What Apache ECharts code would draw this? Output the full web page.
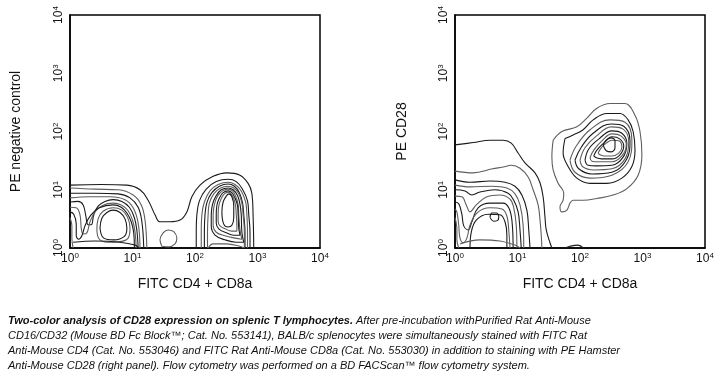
<!DOCTYPE html>
<html><head><meta charset="utf-8">
<script src="https://cdn.jsdelivr.net/npm/echarts@6/dist/echarts.min.js"></script>
<style>html,body{margin:0;padding:0;background:#fff}#c{width:720px;height:375px}</style>
</head><body><div id="c"></div>
<script>
// Axis: decades of fluorescence (10^0 .. 10^4)
const tickExponents = ['0','1','2','3','4'];
const xTitle = 'FITC CD4 + CD8a';
const yTitleLeft = 'PE negative control';
const yTitleRight = 'PE CD28';

// ---- Left panel contours (x, y in log10 decades) ----
const L1 = [[0,1.08],[0.5,1.09],[0.91,1.08],[1.12,1.00],[1.25,0.82],[1.36,0.57],[1.44,0.45],[1.60,0.45],[1.76,0.48],[1.87,0.62],[1.95,0.88],[2.08,1.08],[2.29,1.23],[2.51,1.29],[2.72,1.25],[2.85,1.11],[2.91,0.94],[2.93,0.54],[2.94,0]];
const A2 = [[0,1.03],[0.40,1.01],[0.77,1.00],[1.01,0.91],[1.14,0.74],[1.20,0.48],[1.23,0]];
const A3 = [[0,0.94],[0.40,0.94],[0.77,0.93],[0.96,0.86],[1.09,0.70],[1.15,0.45],[1.18,0]];
const A4 = [[0,0.86],[0.32,0.88],[0.64,0.88],[0.88,0.83],[1.01,0.69],[1.09,0.43],[1.12,0]];
const A5 = [[0,0.79],[0.13,0.80],[0.21,0.74],[0.25,0.57],[0.29,0.40],[0.34,0.40],[0.38,0.57],[0.45,0.72],[0.56,0.80],[0.69,0.83],[0.83,0.80],[0.95,0.70],[1.03,0.52],[1.07,0.30],[1.09,0]];
const A6 = [[0,0.70],[0.10,0.69],[0.16,0.57],[0.18,0.34],[0.21,0.24],[0.27,0.26],[0.32,0.45],[0.40,0.62],[0.52,0.73],[0.69,0.77],[0.82,0.74],[0.93,0.64],[1.00,0.48],[1.04,0.28],[1.06,0]];
const A7 = [[0,0.62],[0.06,0.58],[0.10,0.41],[0.10,0.21],[0.14,0.15],[0.19,0.21],[0.24,0.38],[0.33,0.56],[0.47,0.69],[0.69,0.74],[0.82,0.70],[0.91,0.60],[0.98,0.45],[1.02,0.26],[1.03,0]];
const A8 = [[0.43,0.31],[0.45,0.50],[0.53,0.63],[0.69,0.69],[0.83,0.65],[0.92,0.53],[0.96,0.34],[0.93,0.17],[0.80,0.11],[0.60,0.10],[0.47,0.15],[0.43,0.31]];
const A9 = [[0.48,0.34],[0.51,0.51],[0.59,0.61],[0.69,0.65],[0.80,0.61],[0.88,0.50],[0.91,0.34],[0.87,0.20],[0.70,0.14],[0.54,0.17],[0.48,0.34]];
const A8edge = [[0,0.52],[0.03,0.38],[0.03,0.17],[0.05,0]];
const Abottom = [[0.05,0.10],[0.40,0.12],[0.80,0.10],[1.04,0.05],[1.10,0]];
const island = [[1.47,0.03],[1.44,0.14],[1.49,0.26],[1.57,0.31],[1.66,0.28],[1.71,0.17],[1.68,0.07],[1.58,0.02],[1.47,0.03]];
const B2 = [[2.02,0],[2.02,0.27],[2.03,0.57],[2.07,0.81],[2.18,1.01],[2.34,1.14],[2.53,1.18],[2.66,1.14],[2.76,1.01],[2.84,0.81],[2.86,0.57],[2.88,0.27],[2.88,0]];
const B3 = [[2.10,0],[2.10,0.27],[2.11,0.57],[2.15,0.79],[2.24,0.98],[2.37,1.09],[2.53,1.13],[2.64,1.09],[2.74,0.98],[2.81,0.79],[2.83,0.57],[2.84,0.27],[2.84,0]];
const B4 = [[2.15,0],[2.15,0.27],[2.16,0.57],[2.19,0.78],[2.27,0.95],[2.39,1.06],[2.53,1.10],[2.63,1.06],[2.71,0.95],[2.76,0.78],[2.78,0.57],[2.80,0.27],[2.80,0]];
const B5 = [[2.20,0],[2.20,0.27],[2.21,0.57],[2.23,0.77],[2.30,0.93],[2.41,1.03],[2.53,1.06],[2.62,1.03],[2.70,0.93],[2.75,0.77],[2.77,0.57],[2.79,0.27],[2.79,0]];
const B6 = [[2.26,0.57],[2.28,0.75],[2.34,0.90],[2.42,1.00],[2.53,1.03],[2.61,1.00],[2.68,0.90],[2.72,0.75],[2.74,0.57],[2.75,0.27],[2.78,0.10],[2.66,0.10],[2.48,0.14],[2.32,0.22],[2.26,0.38],[2.26,0.57]];
const B7 = [[2.29,0.57],[2.31,0.75],[2.36,0.89],[2.44,0.98],[2.53,1.01],[2.60,0.98],[2.65,0.89],[2.69,0.75],[2.70,0.57],[2.72,0.31],[2.75,0.15],[2.64,0.17],[2.48,0.21],[2.34,0.27],[2.29,0.39],[2.29,0.57]];
const B8 = [[2.34,0.57],[2.35,0.73],[2.39,0.86],[2.45,0.95],[2.53,0.98],[2.59,0.95],[2.64,0.86],[2.68,0.73],[2.69,0.57],[2.70,0.34],[2.72,0.22],[2.62,0.22],[2.50,0.26],[2.38,0.33],[2.34,0.43],[2.34,0.57]];
const B9 = [[2.37,0.57],[2.38,0.72],[2.42,0.85],[2.47,0.93],[2.53,0.96],[2.58,0.93],[2.62,0.85],[2.65,0.72],[2.66,0.57],[2.67,0.38],[2.67,0.29],[2.59,0.29],[2.48,0.33],[2.40,0.38],[2.37,0.46],[2.37,0.57]];
const B10 = [[2.43,0.62],[2.45,0.79],[2.50,0.89],[2.54,0.93],[2.59,0.88],[2.62,0.72],[2.62,0.53],[2.59,0.39],[2.53,0.36],[2.46,0.41],[2.43,0.62]];
const Bbottom = [[2.21,0],[2.29,0.07],[2.50,0.07],[2.72,0.03],[2.78,0]];

// ---- Right panel contours ----
const C1 = [[0,1.77],[0.29,1.81],[0.56,1.85],[0.77,1.85],[0.90,1.80],[1.01,1.63],[1.12,1.46],[1.28,1.29],[1.36,1.12],[1.41,0.88],[1.44,0.53],[1.46,0.31],[1.52,0.09],[1.55,0]];
const C2 = [[0,1.32],[0.29,1.29],[0.60,1.36],[0.77,1.39],[0.90,1.42],[1.04,1.37],[1.17,1.22],[1.25,1.00],[1.33,0.74],[1.36,0.48],[1.38,0.22],[1.39,0]];
const C3 = [[0,1.17],[0.24,1.13],[0.56,1.15],[0.80,1.13],[0.96,1.06],[1.07,0.91],[1.15,0.65],[1.18,0.31],[1.20,0]];
const C4 = [[0,1.08],[0.24,1.05],[0.59,1.06],[0.83,1.03],[0.96,0.93],[1.04,0.74],[1.09,0.39],[1.10,0]];
const C5 = [[0,1.00],[0.16,0.98],[0.27,0.91],[0.40,0.96],[0.64,1.00],[0.85,0.94],[0.94,0.82],[1.01,0.62],[1.04,0.31],[1.06,0]];
const C6 = [[0,0.89],[0.11,0.88],[0.18,0.74],[0.24,0.62],[0.34,0.74],[0.51,0.88],[0.72,0.91],[0.88,0.84],[0.94,0.69],[0.98,0.39],[0.99,0]];
const C7 = [[0,0.79],[0.06,0.76],[0.11,0.58],[0.14,0.38],[0.21,0.31],[0.27,0.45],[0.37,0.69],[0.56,0.77],[0.77,0.77],[0.86,0.69],[0.91,0.48],[0.93,0]];
const C8 = [[0,0.67],[0.03,0.62],[0.06,0.39],[0.08,0.17],[0.13,0.09],[0.19,0.17],[0.24,0.39],[0.35,0.60],[0.56,0.69],[0.75,0.67],[0.83,0.55],[0.86,0.31],[0.88,0]];
const C9 = [[0.24,0],[0.26,0.27],[0.34,0.48],[0.53,0.58],[0.72,0.57],[0.80,0.45],[0.83,0.22],[0.83,0]];
const Cedge = [[0,0.52],[0.03,0.34],[0.03,0.14],[0.06,0]];
const Cpeak = [[0.56,0.53],[0.59,0.60],[0.66,0.60],[0.70,0.55],[0.69,0.48],[0.62,0.46],[0.56,0.53]];
const Cbottom = [[0.08,0.07],[0.40,0.14],[0.72,0.12],[0.96,0.05],[1.04,0]];
const Cbump = [[1.76,0],[1.84,0.03],[1.97,0.05],[2.05,0]];
const D1 = [[1.57,1.85],[1.71,2.00],[1.95,2.08],[2.11,2.23],[2.27,2.40],[2.48,2.48],[2.72,2.48],[2.88,2.28],[2.96,2.00],[2.99,1.60],[2.93,1.25],[2.75,1.02],[2.53,0.91],[2.27,0.85],[2.05,0.82],[1.89,0.82],[1.84,0.77],[1.79,0.65],[1.71,0.62],[1.68,0.71],[1.73,0.82],[1.74,0.94],[1.65,1.11],[1.57,1.34],[1.55,1.57],[1.57,1.85]];
const D2 = [[1.76,1.88],[1.89,1.94],[2.05,2.03],[2.21,2.20],[2.43,2.31],[2.64,2.31],[2.77,2.20],[2.85,2.00],[2.88,1.68],[2.83,1.40],[2.67,1.20],[2.43,1.11],[2.16,1.11],[1.95,1.20],[1.81,1.40],[1.73,1.63],[1.76,1.88]];
const D3 = [[1.84,1.51],[1.94,1.75],[2.16,2.03],[2.48,2.20],[2.72,2.16],[2.83,1.85],[2.77,1.48],[2.51,1.25],[2.16,1.20],[1.92,1.30],[1.84,1.51]];
const D4 = [[1.92,1.51],[2.02,1.73],[2.21,1.97],[2.50,2.13],[2.70,2.09],[2.80,1.84],[2.74,1.51],[2.51,1.30],[2.19,1.27],[1.98,1.36],[1.92,1.51]];
const D5 = [[2.00,1.51],[2.08,1.72],[2.26,1.92],[2.50,2.08],[2.69,2.04],[2.78,1.82],[2.72,1.53],[2.51,1.36],[2.22,1.34],[2.05,1.39],[2.00,1.51]];
const D6 = [[2.08,1.51],[2.14,1.70],[2.30,1.87],[2.51,2.01],[2.67,1.97],[2.75,1.80],[2.69,1.56],[2.51,1.42],[2.26,1.41],[2.13,1.42],[2.08,1.51]];
const D7 = [[2.16,1.55],[2.22,1.68],[2.35,1.84],[2.51,1.96],[2.66,1.92],[2.74,1.77],[2.67,1.58],[2.51,1.48],[2.29,1.48],[2.19,1.49],[2.16,1.55]];
const D8 = [[2.22,1.58],[2.27,1.68],[2.38,1.80],[2.51,1.91],[2.64,1.87],[2.70,1.75],[2.64,1.60],[2.51,1.53],[2.34,1.53],[2.26,1.55],[2.22,1.58]];
const D9 = [[2.29,1.63],[2.34,1.72],[2.42,1.80],[2.51,1.85],[2.62,1.84],[2.67,1.73],[2.62,1.63],[2.51,1.58],[2.38,1.58],[2.32,1.60],[2.29,1.63]];
const D10 = [[2.37,1.77],[2.42,1.85],[2.50,1.89],[2.56,1.84],[2.56,1.72],[2.50,1.65],[2.42,1.67],[2.37,1.77]];

const leftContours = [L1,A2,A3,A4,A5,A6,A7,A8,A9,A8edge,Abottom,island,B2,B3,B4,B5,B6,B7,B8,B9,B10,Bbottom];
const rightContours = [C1,C2,C3,C4,C5,C6,C7,C8,C9,Cedge,Cpeak,Cbottom,Cbump,D1,D2,D3,D4,D5,D6,D7,D8,D9,D10];

const captionLines = [
  ['Two-color analysis of CD28 expression on splenic T lymphocytes.', ' After pre-incubation withPurified Rat Anti-Mouse'],
  ['', 'CD16/CD32 (Mouse BD Fc Block\u2122; Cat. No. 553141), BALB/c splenocytes were simultaneously stained with FITC Rat'],
  ['', 'Anti-Mouse CD4 (Cat. No. 553046) and FITC Rat Anti-Mouse CD8a (Cat. No. 553030) in addition to staining with PE Hamster'],
  ['', 'Anti-Mouse CD28 (right panel). Flow cytometry was performed on a BD FACScan\u2122 flow cytometry system.']
];

const FONT = 'Liberation Sans, Arial, sans-serif';
const colors = ['#1a1a1a','#5e5e5e'];
const rich = {b:{fontSize:12,fontFamily:FONT,color:'#111'}, s:{fontSize:8,fontFamily:FONT,color:'#111',verticalAlign:'top',padding:[0,0,6,0]}};
const fmt = v => '{b|10}{s|' + tickExponents[Math.round(v)] + '}';

function xAx(i){return {gridIndex:i,type:'value',min:0,max:4,interval:1,
  axisLine:{show:true,lineStyle:{color:'#000',width:1.5}},axisTick:{show:false},splitLine:{show:false},
  axisLabel:{formatter:fmt,rich:rich,margin:4,showMinLabel:true,showMaxLabel:true},
  name:xTitle,nameLocation:'middle',nameGap:29,nameTextStyle:{fontSize:14,fontFamily:FONT,color:'#111'}};}
function yAx(i,name,gap){return {gridIndex:i,type:'value',min:0,max:4,interval:1,
  axisLine:{show:true,lineStyle:{color:'#000',width:1.5}},axisTick:{show:false},splitLine:{show:false},
  axisLabel:{formatter:fmt,rich:rich,rotate:90,margin:4,showMinLabel:true,showMaxLabel:true},
  name:name,nameLocation:'middle',nameGap:gap,nameTextStyle:{fontSize:14,fontFamily:FONT,color:'#111'}};}

const series=[];
function add(list,idx){list.forEach((d,k)=>series.push({type:'line',xAxisIndex:idx,yAxisIndex:idx,data:d,smooth:0.4,
  symbol:'none',silent:true,animation:false,lineStyle:{color:colors[k%2],width:1.1}}));}
add(leftContours,0); add(rightContours,1);

const chart = echarts.init(document.getElementById('c'),null,{renderer:'canvas'});
chart.setOption({
  animation:false,
  grid:[{left:70,top:15,width:250,height:233,show:true,borderColor:'#000',borderWidth:1.5,backgroundColor:'transparent'},
        {left:455,top:15,width:250,height:233,show:true,borderColor:'#000',borderWidth:1.5,backgroundColor:'transparent'}],
  xAxis:[xAx(0),xAx(1)],
  yAxis:[yAx(0,yTitleLeft,47),yAx(1,yTitleRight,46)],
  series:series,
  graphic: captionLines.map((ln,i)=>({type:'text',x:8,y:321+i*15,silent:true,
    style:{text:(ln[0]?'{h|'+ln[0]+'}':'')+'{n|'+ln[1]+'}',verticalAlign:'middle',
      rich:{h:{fontSize:11,fontStyle:'italic',fontWeight:'bold',fontFamily:FONT,fill:'#111'},
            n:{fontSize:11,fontStyle:'italic',fontFamily:FONT,fill:'#111'}}}}))
});
</script></body></html>
